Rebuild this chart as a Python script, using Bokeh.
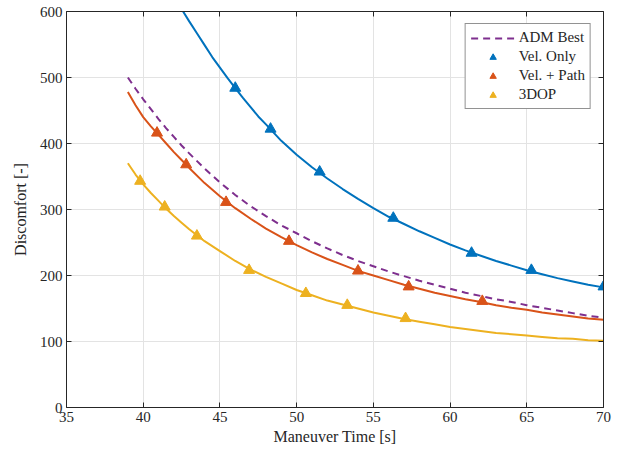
from bokeh.plotting import figure
from bokeh.models import LinearAxis, Legend, LegendItem, Range1d, FixedTicker
from bokeh.embed import file_html
from bokeh.resources import INLINE

# ---- data ----
t_vel = [42.6, 43, 43.5, 44, 44.5, 45, 45.5, 46, 46.5, 47, 47.5, 48, 49, 50, 51, 52,
         53, 54, 55, 56, 57, 58, 59, 60, 61, 62, 63, 64, 65, 66, 67, 68, 69, 70]
d_vel = [600, 585, 567, 549, 531, 515, 499, 484, 469, 455, 441, 429, 404, 383, 364,
         347, 331, 316, 302, 289, 278, 267, 257, 247, 238, 230, 222, 215, 208, 202,
         196, 191, 186, 182]
t_vel_m = [46.0, 48.3, 51.5, 56.3, 61.4, 65.3, 70.0]
d_vel_m = [484, 422, 357, 287, 234, 208, 183]

t_path = [39, 39.5, 40, 40.5, 41, 41.5, 42, 42.5, 43, 44, 45, 46, 47, 48, 49, 50, 51,
          52, 53, 54, 55, 56, 57, 58, 59, 60, 61, 62, 63, 64, 65, 66, 67, 68, 69, 70]
d_path = [478, 458, 440, 426, 413, 400, 387, 375, 363, 340, 320, 302, 286, 271, 258,
          246, 235, 225, 216, 207, 200, 193, 186, 180, 174, 169, 164, 160, 155, 151,
          148, 144, 141, 138, 135, 133]
t_path_m = [40.9, 42.8, 45.4, 49.5, 54.0, 57.3, 62.1]
d_path_m = [416, 368, 311, 252, 207, 183, 161]

t_3dop = [39, 39.5, 40, 40.5, 41, 41.5, 42, 42.5, 43, 44, 45, 46, 47, 48, 49, 50, 51,
          52, 53, 54, 55, 56, 57, 58, 59, 60, 61, 62, 63, 64, 65, 66, 67, 68, 69, 70]
d_3dop = [370, 353, 338, 325, 313, 301, 290, 280, 270, 252, 237, 222, 209, 198, 188,
          178, 170, 162, 156, 150, 144, 139, 134, 130, 126, 122, 119, 116, 113, 111,
          109, 107, 105, 104, 102, 101]
t_3dop_m = [39.8, 41.4, 43.5, 46.9, 50.6, 53.3, 57.1]
d_3dop_m = [343, 304, 260, 208, 173, 155, 135]

t_adm = [39, 39.5, 40, 40.5, 41, 41.5, 42, 42.5, 43, 44, 45, 46, 47, 48, 49, 50, 51,
         52, 53, 54, 55, 56, 57, 58, 59, 60, 61, 62, 63, 64, 65, 66, 67, 68, 69, 70]
d_adm = [500, 483, 467, 452, 437, 423, 410, 397, 385, 362, 341, 322, 305, 290, 276,
         264, 252, 241, 231, 222, 214, 206, 199, 192, 186, 180, 174, 169, 164, 160,
         155, 151, 147, 143, 139, 136]

x_ticks = [35, 40, 45, 50, 55, 60, 65, 70]
y_ticks = [0, 100, 200, 300, 400, 500, 600]

BLUE = "#0072BD"
ORANGE = "#D95319"
YELLOW = "#EDB120"
PURPLE = "#7E2F8E"
FONT = "Liberation Serif"
AX = "#262626"

p = figure(width=615, height=451, output_backend="svg", toolbar_location=None,
           x_range=Range1d(35, 70), y_range=Range1d(0, 600),
           min_border_left=66, min_border_right=12, min_border_top=11,
           min_border_bottom=44)
p.outline_line_color = None
p.background_fill_color = "white"
p.border_fill_color = "white"

for ax in (p.xaxis[0], p.yaxis[0]):
    ax.axis_line_color = AX
    ax.major_tick_line_color = AX
    ax.major_tick_in = 5
    ax.major_tick_out = 0
    ax.minor_tick_line_color = None
    ax.major_label_text_font = FONT
    ax.major_label_text_font_size = "15px"
    ax.major_label_text_color = "#262626"
    ax.axis_label_text_font = FONT
    ax.axis_label_text_font_size = "16px"
    ax.axis_label_text_font_style = "normal"
    ax.axis_label_text_color = "#262626"
p.xaxis[0].ticker = FixedTicker(ticks=x_ticks)
p.yaxis[0].ticker = FixedTicker(ticks=y_ticks)
p.xaxis[0].axis_label = "Maneuver Time [s]"
p.yaxis[0].axis_label = "Discomfort [-]"
p.xaxis[0].axis_label_standoff = 3
p.yaxis[0].axis_label_standoff = 8
p.xaxis[0].major_label_standoff = 4
p.yaxis[0].major_label_standoff = 4

top = LinearAxis(ticker=FixedTicker(ticks=x_ticks), major_label_text_font_size="1px",
                 major_label_text_color=None,
                 major_tick_in=5, major_tick_out=0, minor_tick_line_color=None,
                 axis_line_color=AX, major_tick_line_color=AX, major_label_standoff=0)
right = LinearAxis(ticker=FixedTicker(ticks=y_ticks), major_label_text_font_size="1px",
                   major_label_text_color=None,
                   major_tick_in=5, major_tick_out=0, minor_tick_line_color=None,
                   axis_line_color=AX, major_tick_line_color=AX, major_label_standoff=0)
p.add_layout(top, "above")
p.add_layout(right, "right")

p.xgrid.ticker = FixedTicker(ticks=x_ticks)
p.ygrid.ticker = FixedTicker(ticks=y_ticks)
p.grid.grid_line_color = "#e3e3e3"
p.grid.grid_line_width = 1

adm = p.line(t_adm, d_adm, line_color=PURPLE, line_width=2, line_dash="7 5")
p.line(t_vel, d_vel, line_color=BLUE, line_width=2)
mv = p.scatter(t_vel_m, d_vel_m, marker="triangle", size=11, fill_color=BLUE,
               line_color=BLUE)
p.line(t_path, d_path, line_color=ORANGE, line_width=2)
mp = p.scatter(t_path_m, d_path_m, marker="triangle", size=11, fill_color=ORANGE,
               line_color=ORANGE)
p.line(t_3dop, d_3dop, line_color=YELLOW, line_width=2)
m3 = p.scatter(t_3dop_m, d_3dop_m, marker="triangle", size=11, fill_color=YELLOW,
               line_color=YELLOW)

legend = Legend(items=[
    LegendItem(label="ADM Best", renderers=[adm]),
    LegendItem(label="Vel. Only", renderers=[mv]),
    LegendItem(label="Vel. + Path", renderers=[mp]),
    LegendItem(label="3DOP", renderers=[m3]),
], location="top_right")
legend.label_text_font = FONT
legend.label_text_font_size = "15px"
legend.label_text_color = "#262626"
legend.border_line_color = AX
legend.border_line_width = 1
legend.background_fill_color = "white"
legend.background_fill_alpha = 1
legend.glyph_width = 44
legend.glyph_height = 16
legend.label_height = 16
legend.spacing = 2
legend.padding = 5
legend.margin = 12
legend.label_standoff = 4
p.add_layout(legend, "center")

open("out.html", "w").write(file_html(p, INLINE))
